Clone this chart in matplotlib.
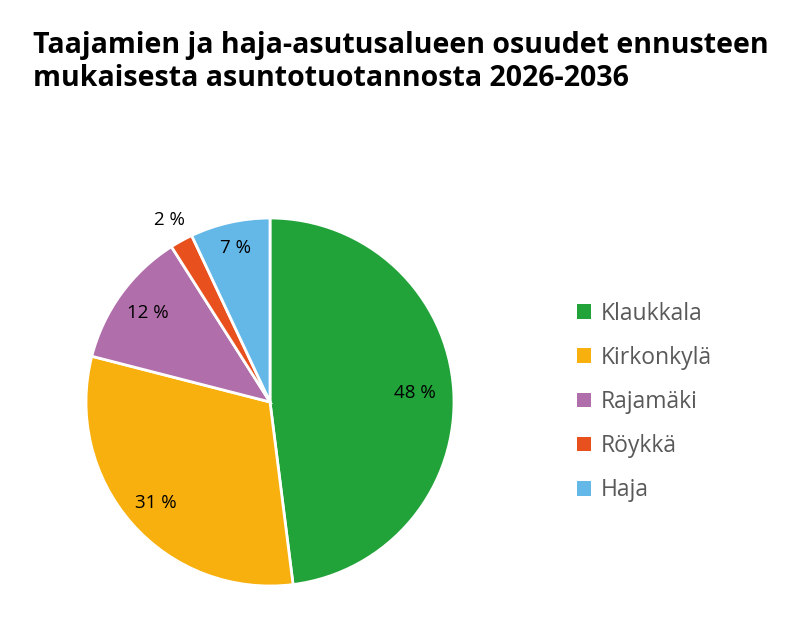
import numpy as np
import matplotlib.pyplot as plt
from matplotlib.patches import Patch

# data
labels = ['Klaukkala', 'Kirkonkylä', 'Rajamäki', 'Röykkä', 'Haja']
shares = [48, 31, 12, 2, 7]
colors = ['#21A33A', '#F8B00F', '#B06EAB', '#E8501E', '#64B8E8']
label_r = [0.79, 0.83, 0.82, 1.13, 0.86]

plt.rcParams['font.family'] = ['Open Sans', 'DejaVu Sans']

fig = plt.figure(figsize=(7.89, 6.34), dpi=100)

fig.text(33 / 789, 1 - 45 / 634, 'Taajamien ja haja-asutusalueen osuudet ennusteen',
         fontsize=20.5, fontweight='bold', va='center', ha='left')
fig.text(33 / 789, 1 - 78 / 634, 'mukaisesta asuntotuotannosta 2026-2036',
         fontsize=20.5, fontweight='bold', va='center', ha='left')

# pie axes: centre (270, 402), radius 184 px
cx, cy, r = 270, 402, 184
ax = fig.add_axes([(cx - r) / 789, (634 - cy - r) / 634, 2 * r / 789, 2 * r / 634])
wedges, _ = ax.pie(shares, colors=colors, startangle=90, counterclock=False,
                   wedgeprops=dict(edgecolor='white', linewidth=2))
ax.set_xlim(-1, 1)
ax.set_ylim(-1, 1)
ax.set_aspect('equal')

for w, v, lr in zip(wedges, shares, label_r):
    ang = np.deg2rad((w.theta1 + w.theta2) / 2)
    ax.text(lr * np.cos(ang), lr * np.sin(ang), f'{v} %', ha='center', va='center',
            fontsize=13.5, color='black')

handles = [Patch(facecolor=c, edgecolor='none') for c in colors]
leg = fig.legend(handles, labels, loc='center left', bbox_to_anchor=(577 / 789, 1 - 402 / 634),
                 frameon=False, fontsize=16.5, handlelength=0.6, handleheight=0.6,
                 handletextpad=0.45, labelspacing=0.88, labelcolor='#595959',
                 borderpad=0, borderaxespad=0)

fig.savefig('out.png', dpi=100)
